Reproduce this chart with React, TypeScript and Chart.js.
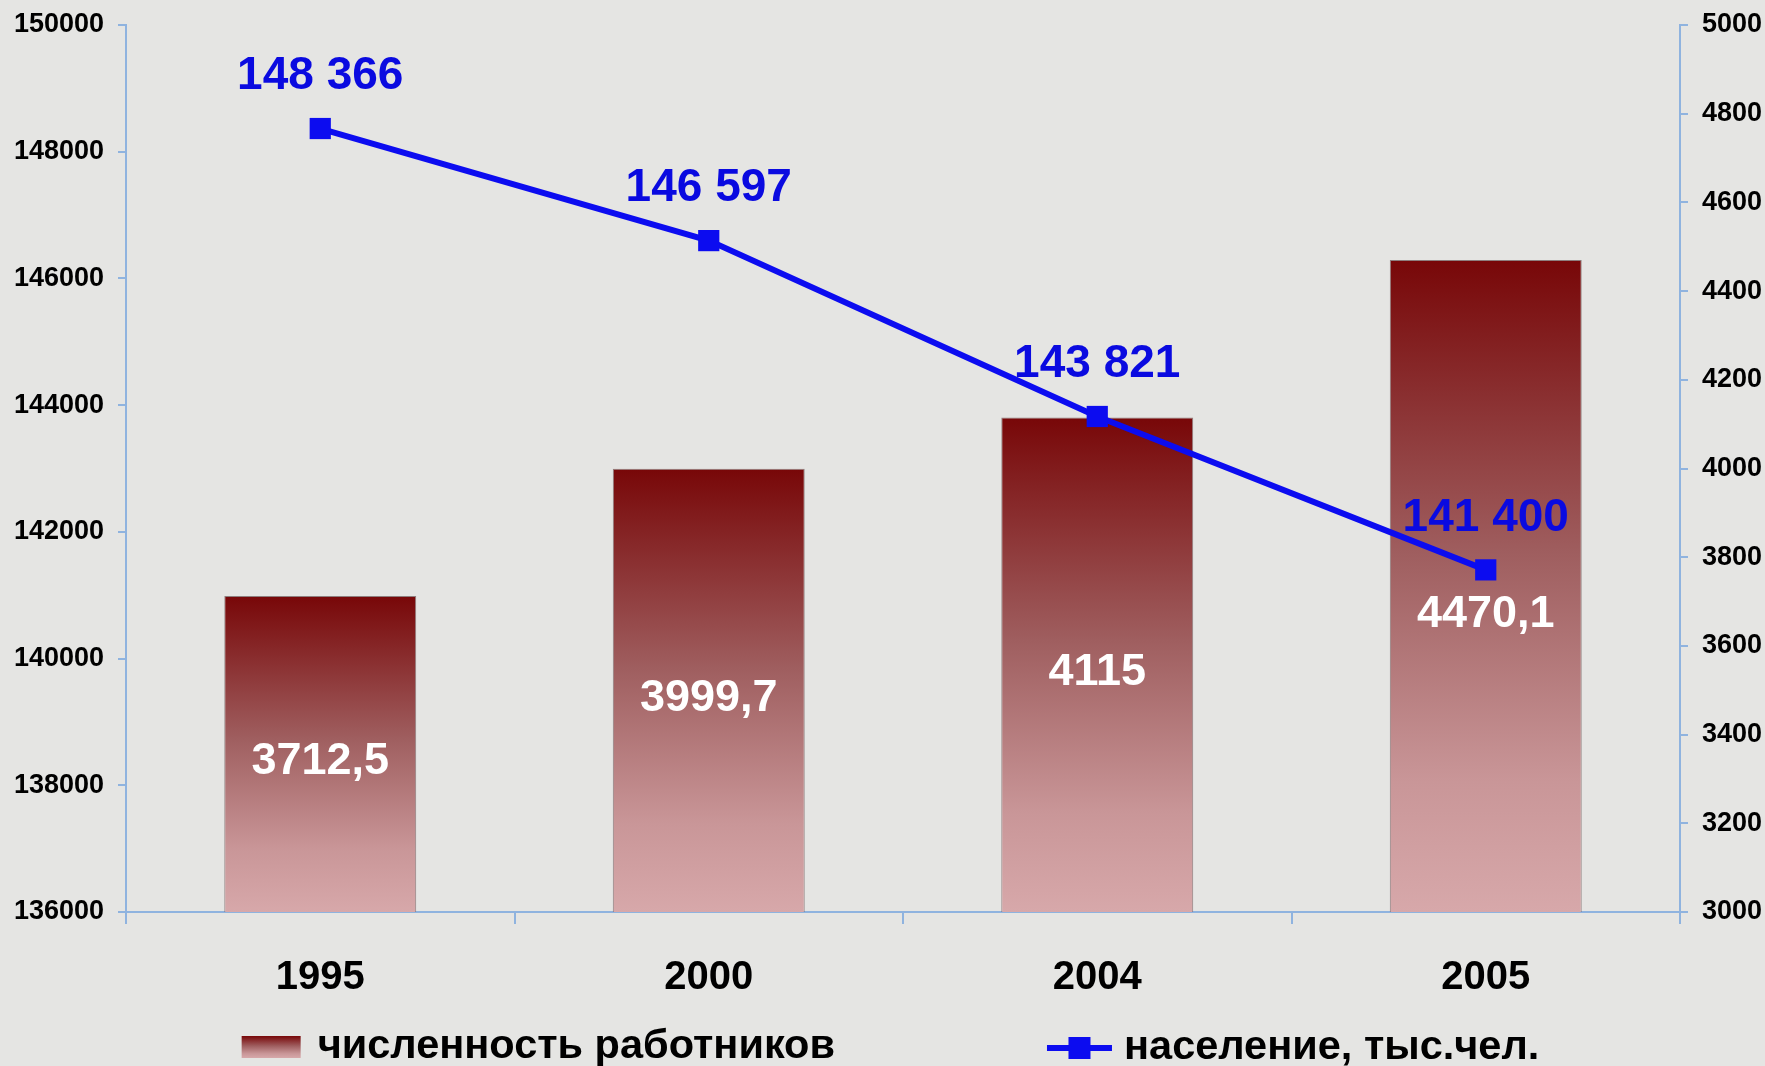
import { useEffect, useRef } from 'react';
import { Chart, registerables } from 'chart.js';

Chart.register(...registerables);

const categories = ['1995', '2000', '2004', '2005'];
const workers = [3712.5, 3999.7, 4115, 4470.1];
const population = [148366, 146597, 143821, 141400];
const workersLabel = 'численность работников';
const populationLabel = 'население, тыс.чел.';

const FONT = '"Liberation Sans", Arial, sans-serif';
const AXIS_COLOR = '#8fb3df';
const LINE_COLOR = '#0c0cf0';
const LINE_TEXT = '#0a0ae0';

function barGradient(c: CanvasRenderingContext2D, top: number, bottom: number) {
  const g = c.createLinearGradient(0, top, 0, bottom);
  g.addColorStop(0, '#780708');
  g.addColorStop(0.45, '#9f5e5f');
  g.addColorStop(0.8, '#c99698');
  g.addColorStop(1, '#d7a8aa');
  return g;
}

const fmtPop = (v: number) => String(v).replace(/\B(?=(\d{3})+(?!\d))/g, ' ');
const fmtWork = (v: number) => String(v).replace('.', ',');

const bgPlugin = {
  id: 'bg',
  beforeDraw(chart: any) {
    const c = chart.ctx;
    c.save();
    c.fillStyle = '#e5e5e3';
    c.fillRect(0, 0, chart.width, chart.height);
    c.restore();
  },
};

const labelsPlugin = {
  id: 'valueLabels',
  afterDraw(chart: any) {
    const c = chart.ctx;
    const xs = chart.scales.x;
    const y1 = chart.scales.y1;
    const y = chart.scales.y;
    c.save();
    c.textAlign = 'center';
    c.textBaseline = 'middle';
    c.font = `bold 45px ${FONT}`;
    categories.forEach((_, i) => {
      const x = xs.getPixelForValue(i);
      const top = y1.getPixelForValue(workers[i]);
      const base = y1.getPixelForValue(y1.min);
      const py = y.getPixelForValue(population[i]);
      let ly = (top + base) / 2 + 8;
      if (Math.abs(ly - py) < 40) ly = py + 45;
      c.fillStyle = '#ffffff';
      c.fillText(fmtWork(workers[i]), x, ly);
    });
    c.font = `bold 46px ${FONT}`;
    categories.forEach((_, i) => {
      const x = xs.getPixelForValue(i);
      const py = y.getPixelForValue(population[i]);
      c.fillStyle = LINE_TEXT;
      c.fillText(fmtPop(population[i]), x, py - 52);
    });
    c.restore();
  },
};

const legendPlugin = {
  id: 'customLegend',
  afterDraw(chart: any) {
    const c = chart.ctx;
    c.save();
    c.font = `bold 41.5px ${FONT}`;
    c.textBaseline = 'middle';
    c.textAlign = 'left';
    const w1 = c.measureText(workersLabel).width;
    const w2 = c.measureText(populationLabel).width;
    const box = 59, gap1 = 17, mark = 65, gap2 = 12, between = 212;
    const total = box + gap1 + w1 + between + mark + gap2 + w2;
    let x = (chart.width - total) / 2 + 8;
    const cy = 1047;
    c.fillStyle = barGradient(c, cy - 11, cy + 11);
    c.fillRect(x, cy - 11, box, 22);
    x += box + gap1;
    c.fillStyle = '#000';
    c.fillText(workersLabel, x, cy);
    x += w1 + between;
    c.strokeStyle = LINE_COLOR;
    c.lineWidth = 6;
    c.beginPath();
    c.moveTo(x, cy + 1);
    c.lineTo(x + mark, cy + 1);
    c.stroke();
    c.fillStyle = LINE_COLOR;
    c.fillRect(x + mark / 2 - 11, cy - 10, 22, 22);
    x += mark + gap2;
    c.fillStyle = '#000';
    c.fillText(populationLabel, x, cy + 1);
    c.restore();
  },
};

export default function App() {
  const ref = useRef<HTMLCanvasElement>(null);
  useEffect(() => {
    const canvas = ref.current!;
    const chart = new Chart(canvas, {
      type: 'bar',
      data: {
        labels: categories,
        datasets: [
          {
            type: 'bar',
            label: workersLabel,
            data: workers,
            yAxisID: 'y1',
            order: 2,
            barPercentage: 0.494,
            categoryPercentage: 1,
            borderWidth: 1,
            borderColor: 'rgba(120,100,100,0.8)',
            backgroundColor: (ctx: any) => {
              const chart = ctx.chart;
              if (!chart.chartArea) return '#a05050';
              const s = chart.scales.y1;
              const top = s.getPixelForValue(ctx.raw);
              const bottom = s.getPixelForValue(s.min);
              return barGradient(chart.ctx, top, bottom);
            },
          } as any,
          {
            type: 'line',
            label: populationLabel,
            data: population,
            yAxisID: 'y',
            order: 1,
            borderColor: LINE_COLOR,
            borderWidth: 6,
            pointStyle: 'rect',
            pointRadius: 15,
            pointBackgroundColor: LINE_COLOR,
            pointBorderColor: LINE_COLOR,
            pointBorderWidth: 0,
            tension: 0,
          } as any,
        ],
      },
      options: {
        responsive: false,
        animation: false,
        layout: { padding: { top: 25, bottom: 50, left: 0, right: 0 } },
        plugins: {
          legend: { display: false },
          tooltip: { enabled: false },
        },
        scales: {
          x: {
            type: 'category',
            offset: true,
            grid: {
              offset: true,
              drawOnChartArea: false,
              drawTicks: true,
              tickLength: 12,
              color: AXIS_COLOR,
              lineWidth: 2,
            },
            border: { color: AXIS_COLOR, width: 2 },
            ticks: {
              color: '#000',
              font: { family: FONT, size: 40, weight: 'bold' },
              padding: 30,
            },
            afterFit: (s: any) => {
              s.height = 1066 - 50 - 912;
              s.paddingLeft = 0;
              s.paddingRight = 0;
            },
          },
          y: {
            position: 'left',
            min: 136000,
            max: 150000,
            grid: {
              drawOnChartArea: false,
              tickLength: 8,
              color: AXIS_COLOR,
              lineWidth: 2,
            },
            border: { color: AXIS_COLOR, width: 2 },
            ticks: {
              stepSize: 2000,
              color: '#000',
              font: { family: FONT, size: 27, weight: 'bold' },
              padding: 14,
              callback: (v: any) => String(v),
            },
            afterFit: (s: any) => {
              s.width = 126;
              s.paddingTop = 0;
              s.paddingBottom = 0;
            },
          },
          y1: {
            position: 'right',
            min: 3000,
            max: 5000,
            grid: {
              drawOnChartArea: false,
              tickLength: 8,
              color: AXIS_COLOR,
              lineWidth: 2,
            },
            border: { color: AXIS_COLOR, width: 2 },
            ticks: {
              stepSize: 200,
              color: '#000',
              font: { family: FONT, size: 27, weight: 'bold' },
              padding: 14,
              callback: (v: any) => String(v),
            },
            afterFit: (s: any) => {
              s.width = 1765 - 1680;
              s.paddingTop = 0;
              s.paddingBottom = 0;
            },
          },
        },
      } as any,
      plugins: [bgPlugin, labelsPlugin, legendPlugin],
    });
    return () => chart.destroy();
  }, []);
  return (
    <div style={{ position: 'fixed', left: 0, top: 0, width: 1765, height: 1066, background: '#e5e5e3' }}>
      <canvas ref={ref} width={1765} height={1066} style={{ display: 'block' }} />
    </div>
  );
}
